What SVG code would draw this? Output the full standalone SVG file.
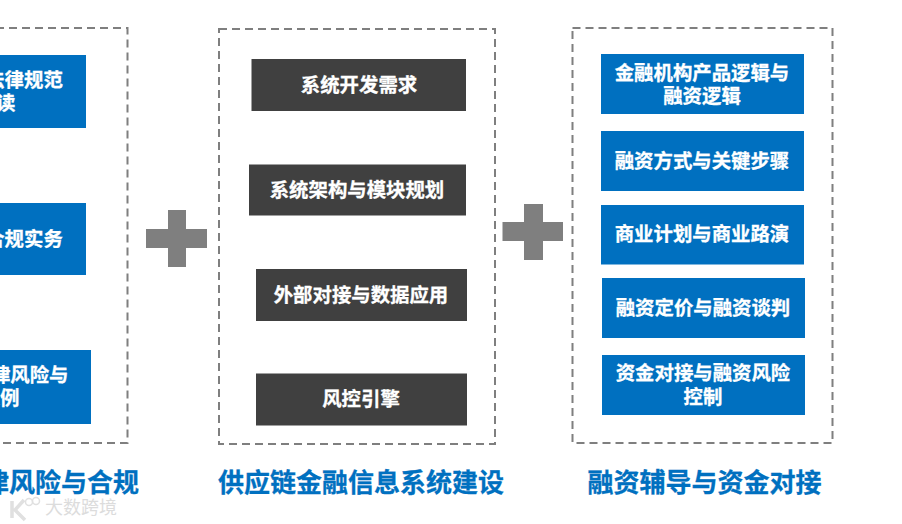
<svg xmlns="http://www.w3.org/2000/svg" width="902" height="524" viewBox="0 0 902 524">
<style>
text{font-family:"Noto Sans CJK SC","Liberation Sans",sans-serif;font-weight:700;text-anchor:middle}
.t{fill:#fff;font-size:19.4px;stroke:#fff;stroke-width:.3px}
.b{fill:#0070c0}
.d{fill:#404040}
.f{fill:none;stroke:#7f7f7f;stroke-width:2;stroke-dasharray:8 5}
.p{fill:#7f7f7f}
.h{fill:#0070c0;font-size:26px;stroke:#0070c0;stroke-width:.3px}
</style>
<rect width="902" height="524" fill="#fff"/>
<g id="panel-left">
<path class="f" d="M-4 28H127.500V443H-4"/>
<rect class="b" x="-20" y="55" width="106" height="73"/>
<text class="t" x="24" y="87">法律规范</text><text class="t" x="-4" y="110">解读</text>
<rect class="b" x="-20" y="203" width="106" height="72"/>
<text class="t" x="24" y="246">合规实务</text>
<rect class="b" x="-20" y="350" width="111" height="74"/>
<text class="t" x="20" y="382">法律风险与</text><text class="t" x="0" y="405">案例</text>
<text class="h" x="48" y="492">法律风险与合规</text>
</g>
<g id="plus-1"><path class="p" d="M168 210H186V229H207V248H186V267H168V248H146V229H168Z"/></g>
<g id="panel-middle">
<rect class="f" x="219" y="29" width="276" height="415"/>
<g id="m1"><rect class="d" x="251.500" y="59" width="214.500" height="52"/><text class="t" x="359" y="92">系统开发需求</text></g>
<g id="m2"><rect class="d" x="249" y="164.500" width="217" height="51"/><text class="t" x="357" y="197">系统架构与模块规划</text></g>
<g id="m3"><rect class="d" x="256" y="269" width="211" height="52"/><text class="t" x="361" y="301.500">外部对接与数据应用</text></g>
<g id="m4"><rect class="d" x="256" y="373.500" width="211" height="52"/><text class="t" x="361" y="406">风控引擎</text></g>
<text class="h" x="361" y="492">供应链金融信息系统建设</text>
</g>
<g id="plus-2"><path class="p" d="M524 204H543V222H563V241H543V260H524V241H502.500V222H524Z"/></g>
<g id="panel-right">
<rect class="f" x="572.500" y="28" width="260" height="415"/>
<g id="r1"><rect class="b" x="601" y="54" width="203" height="60"/><text class="t" x="702" y="79.500">金融机构产品逻辑与</text><text class="t" x="702" y="102.500">融资逻辑</text></g>
<g id="r2"><rect class="b" x="601" y="131" width="203" height="60"/><text class="t" x="702" y="167.500">融资方式与关键步骤</text></g>
<g id="r3"><rect class="b" x="601" y="205" width="203" height="59.500"/><text class="t" x="702" y="240.500">商业计划与商业路演</text></g>
<g id="r4"><rect class="b" x="602" y="278" width="203" height="60"/><text class="t" x="703" y="315">融资定价与融资谈判</text></g>
<g id="r5"><rect class="b" x="602" y="355" width="203" height="60"/><text class="t" x="703" y="380">资金对接与融资风险</text><text class="t" x="703" y="403.500">控制</text></g>
<text class="h" x="704.500" y="492">融资辅导与资金对接</text>
</g>
<g id="watermark" opacity=".9">
<path d="M12 501V518M24 500L15 510L25 520" fill="none" stroke="#ddd" stroke-width="3.500"/>
<circle cx="29" cy="502" r="3.500" fill="none" stroke="#ddd" stroke-width="1.500"/><circle cx="36" cy="501" r="3.500" fill="none" stroke="#ddd" stroke-width="1.500"/>
<text x="81" y="514" style="font-size:18px;font-weight:400;fill:#d9d9d9">大数跨境</text>
</g>
</svg>
